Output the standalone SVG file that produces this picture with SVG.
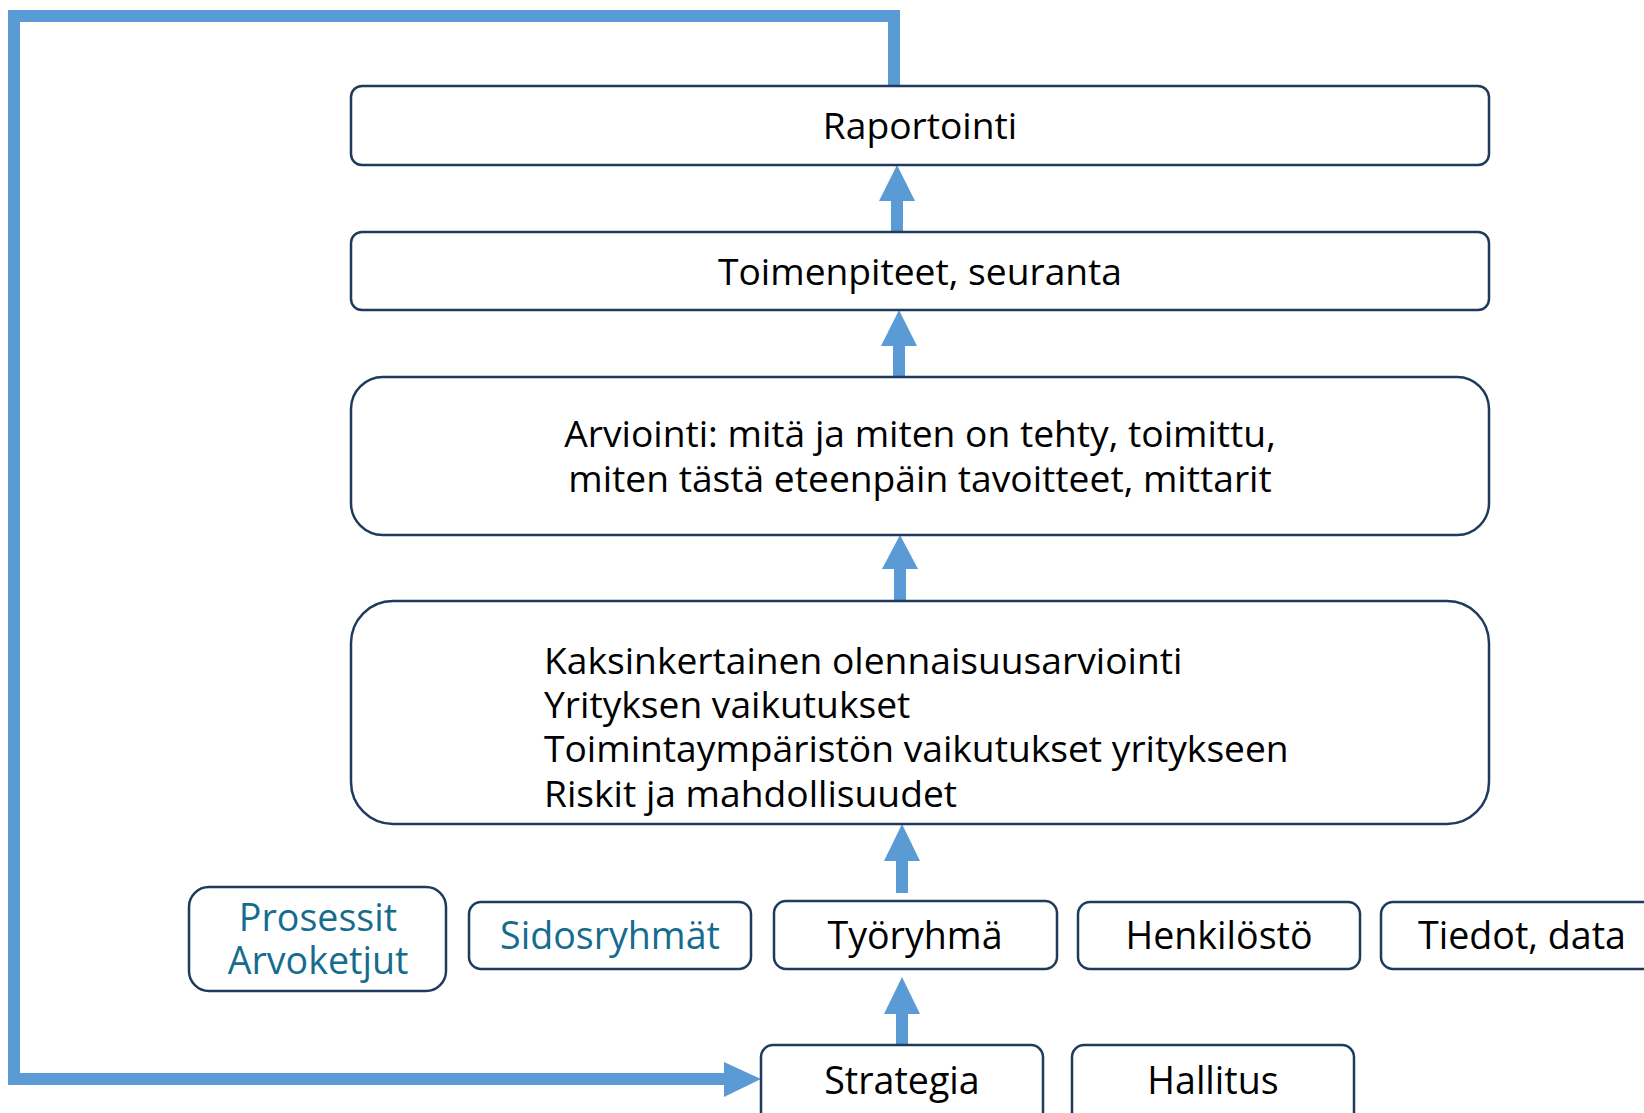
<svg xmlns="http://www.w3.org/2000/svg" width="1644" height="1113" viewBox="0 0 1644 1113">
<style>
.box{fill:#fff;stroke:#1F3B5C;stroke-width:2.5}
.t{font-family:"Open Sans","Noto Sans",sans-serif;font-size:37.2px;fill:#000}
.c{text-anchor:middle}
.b{font-size:37.6px}
.teal{fill:#156C8E}
.link{fill:none;stroke:#5B9BD5;stroke-width:12}
.head{fill:#5B9BD5}
</style>
<rect width="1644" height="1113" fill="#fff"/>
<g id="connectors">
<path class="link" d="M894 86 V16 H14 V1079 H728"/>
<polygon class="head" points="724,1062 761,1079 724,1097"/>
<line class="link" x1="897" y1="232" x2="897" y2="195"/>
<polygon class="head" points="879,201 897,165 915,201"/>
<line class="link" x1="899" y1="377" x2="899" y2="340"/>
<polygon class="head" points="881,346 899,310 917,346"/>
<line class="link" x1="900" y1="601" x2="900" y2="563"/>
<polygon class="head" points="882,569 900,535 918,569"/>
<line class="link" x1="902" y1="893" x2="902" y2="855"/>
<polygon class="head" points="884,861 902,824 920,861"/>
<line class="link" x1="902" y1="1045" x2="902" y2="1008"/>
<polygon class="head" points="884,1014 902,977 920,1014"/>
</g>
<g id="raportointi">
<rect class="box" x="351" y="86" width="1138" height="79" rx="11"/>
<text class="t c" x="920" y="139">Raportointi</text>
</g>
<g id="toimenpiteet">
<rect class="box" x="351" y="232" width="1138" height="78" rx="11"/>
<text class="t c" x="920" y="285">Toimenpiteet, seuranta</text>
</g>
<g id="arviointi">
<rect class="box" x="351" y="377" width="1138" height="158" rx="32"/>
<text class="t c" x="920" y="447">Arviointi: mitä ja miten on tehty, toimittu,</text>
<text class="t c" x="920" y="492">miten tästä eteenpäin tavoitteet, mittarit</text>
</g>
<g id="kaksinkertainen">
<rect class="box" x="351" y="601" width="1138" height="223" rx="42"/>
<text class="t" x="544" y="674">Kaksinkertainen olennaisuusarviointi</text>
<text class="t" x="544" y="718">Yrityksen vaikutukset</text>
<text class="t" x="544" y="762">Toimintaympäristön vaikutukset yritykseen</text>
<text class="t" x="544" y="807">Riskit ja mahdollisuudet</text>
</g>
<g id="prosessit">
<rect class="box" x="189" y="887" width="257" height="104" rx="20"/>
<text class="t b c teal" x="318" y="931">Prosessit</text>
<text class="t b c teal" x="318" y="974">Arvoketjut</text>
</g>
<g id="sidosryhmat">
<rect class="box" x="469" y="902" width="282" height="67" rx="12"/>
<text class="t b c teal" x="610" y="949">Sidosryhmät</text>
</g>
<g id="tyoryhma">
<rect class="box" x="774" y="901" width="283" height="68" rx="12"/>
<text class="t b c" x="915" y="949">Työryhmä</text>
</g>
<g id="henkilosto">
<rect class="box" x="1078" y="902" width="282" height="67" rx="12"/>
<text class="t b c" x="1219" y="949">Henkilöstö</text>
</g>
<g id="tiedot">
<rect class="box" x="1381" y="902" width="282" height="67" rx="12"/>
<text class="t b c" x="1522" y="949">Tiedot, data</text>
</g>
<g id="strategia">
<rect class="box" x="761" y="1045" width="282" height="80" rx="12"/>
<text class="t b c" x="902" y="1094">Strategia</text>
</g>
<g id="hallitus">
<rect class="box" x="1072" y="1045" width="282" height="80" rx="12"/>
<text class="t b c" x="1213" y="1094">Hallitus</text>
</g>
</svg>
